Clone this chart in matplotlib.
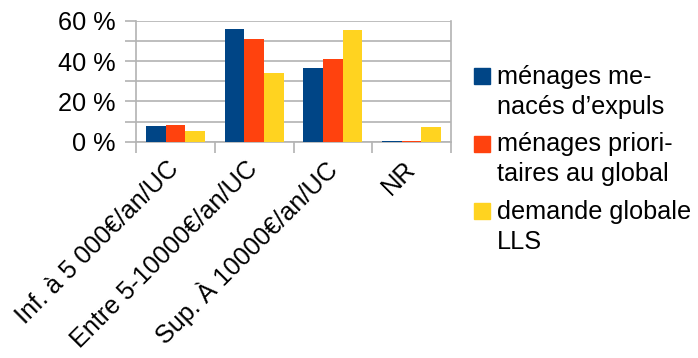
import matplotlib
matplotlib.use("Agg")
import matplotlib.pyplot as plt
import numpy as np
from matplotlib.patches import Rectangle

categories = ["Inf. à 5 000€/an/UC", "Entre 5-10000€/an/UC", "Sup. À 10000€/an/UC", "NR"]
menaces = [7.8, 55.9, 36.6, 0.3]
prioritaires = [8.3, 51.0, 41.0, 0.3]
demande = [5.3, 34.1, 55.4, 7.2]
series_labels = ["ménages me-\nnacés d’expuls",
                 "ménages priori-\ntaires au global",
                 "demande globale\nLLS"]
colors = ["#004586", "#ff420e", "#ffd320"]
yticks = [0, 20, 40, 60]

plt.rcParams['font.family'] = ['Liberation Sans', 'DejaVu Sans']
FS = 18.2
GRID = "#b3b3b3"

W, H = 698, 358
fig = plt.figure(figsize=(W / 100, H / 100), dpi=100)
ax = fig.add_axes([136 / W, 1 - 141.7 / H, (451 - 136) / W, (141.7 - 20.7) / H])

x = np.arange(len(categories))
w = 0.25
for i, (vals, c) in enumerate(zip([menaces, prioritaires, demande], colors)):
    ax.bar(x + (i - 1) * w, vals, width=w, color=c, zorder=3, linewidth=0)

ax.set_xlim(-0.5, len(categories) - 0.5)
ax.set_ylim(0, 60)
ax.set_yticks(yticks)
ax.set_yticks([10, 30, 50], minor=True)
ax.set_yticklabels([f"{v} %" for v in yticks], fontsize=FS)
ax.yaxis.grid(True, which='both', color=GRID, lw=1.2, zorder=0)
ax.tick_params(axis='y', which='both', length=8, color=GRID, width=1.2, pad=7)

ax.set_xticks(x)
ax.set_xticklabels(categories, fontsize=FS, rotation=45, ha='right', va='center',
                   rotation_mode='anchor')
ax.set_xticks(np.arange(-0.5, len(categories), 1), minor=True)
ax.tick_params(axis='x', which='major', length=0, pad=17)
ax.tick_params(axis='x', which='minor', length=8, color=GRID, width=1.2)

for s in ax.spines.values():
    s.set_color(GRID)
    s.set_linewidth(1.2)
ax.spines['top'].set_visible(False)

# legend: square swatch aligned with the first line of each label
for i, (lab, c) in enumerate(zip(series_labels, colors)):
    ytop = 68 + i * 67.5
    fig.patches.append(Rectangle((474 / W, 1 - (ytop + 16) / H), 16 / W, 16 / H,
                                 transform=fig.transFigure, color=c, figure=fig))
    fig.text(497 / W, 1 - (ytop - 3) / H, lab, fontsize=FS, va='top', ha='left',
             linespacing=1.3)

fig.savefig("out.png", dpi=100)
